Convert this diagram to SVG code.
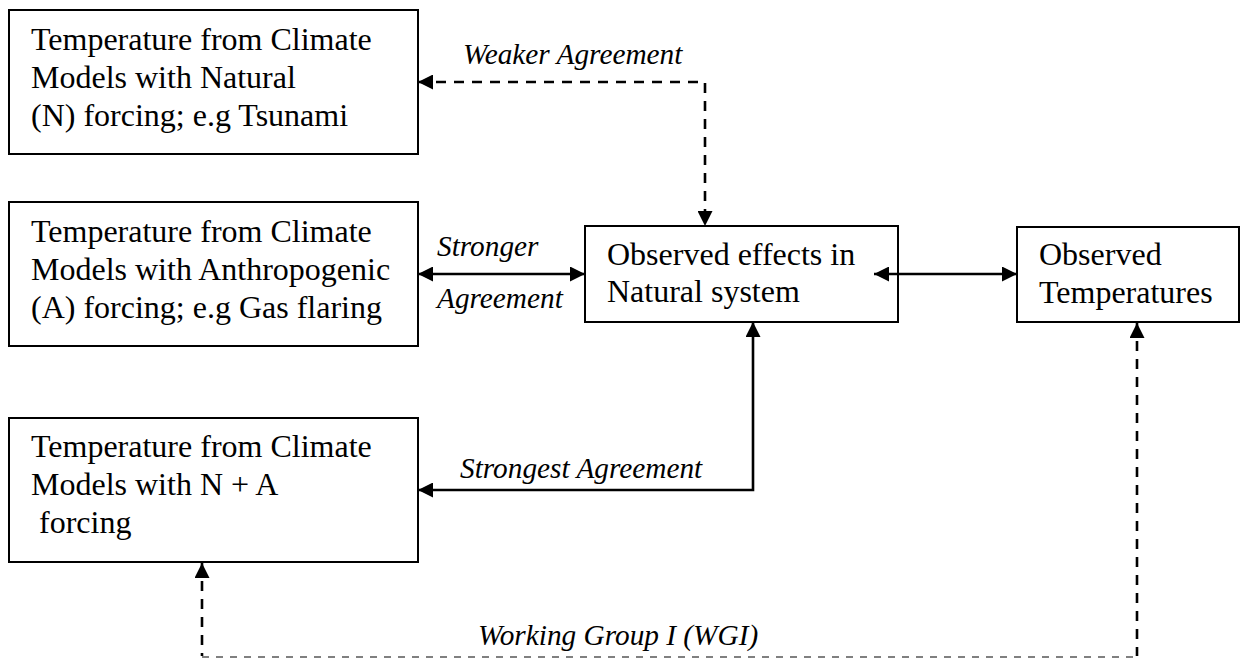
<svg xmlns="http://www.w3.org/2000/svg" width="1250" height="658" viewBox="0 0 1250 658">
<style>
.box{fill:#fff;stroke:#000;stroke-width:2}
.t{font-family:'Liberation Serif','Times New Roman','DejaVu Serif',serif;font-size:32px;fill:#000}
.l{font-family:'Liberation Serif','Times New Roman','DejaVu Serif',serif;font-size:29.3px;font-style:italic;fill:#000}
.c{fill:none;stroke:#000;stroke-width:2.6}
.d{stroke-dasharray:10 8}
.g{fill:none;stroke:#808080;stroke-width:2;stroke-dasharray:7 7}
</style>
<defs>
<marker id="ah" markerUnits="userSpaceOnUse" markerWidth="15" markerHeight="15" viewBox="0 0 15 15" refX="15" refY="7.5" orient="auto-start-reverse">
<path d="M0,0 L15,7.5 L0,15 z" fill="#000"/>
</marker>
</defs>
<rect width="1250" height="658" fill="#fff"/>
<g id="n1">
<rect class="box" x="9" y="10" width="409" height="144"/>
<text class="t" x="31" y="50">Temperature from Climate</text>
<text class="t" x="31" y="88">Models with Natural</text>
<text class="t" x="31" y="126">(N) forcing; e.g Tsunami</text>
</g>
<g id="n2">
<rect class="box" x="9" y="202" width="409" height="144"/>
<text class="t" x="31" y="242">Temperature from Climate</text>
<text class="t" x="31" y="280">Models with Anthropogenic</text>
<text class="t" x="31" y="318">(A) forcing; e.g Gas flaring</text>
</g>
<g id="n3">
<rect class="box" x="585" y="226" width="313" height="96"/>
<text class="t" x="607" y="265">Observed effects in</text>
<text class="t" x="607" y="302">Natural system</text>
</g>
<g id="n4">
<rect class="box" x="1017" y="227" width="222" height="95"/>
<text class="t" x="1039" y="265">Observed</text>
<text class="t" x="1039" y="303">Temperatures</text>
</g>
<g id="n5">
<rect class="box" x="9" y="418" width="409" height="144"/>
<text class="t" x="31" y="457">Temperature from Climate</text>
<text class="t" x="31" y="495">Models with N + A</text>
<text class="t" x="39" y="533">forcing</text>
</g>
<g id="connectors">
<path class="c d" d="M418,82 H705 V226" marker-start="url(#ah)" marker-end="url(#ah)"/>
<path class="c" d="M418,274 H585" marker-start="url(#ah)" marker-end="url(#ah)"/>
<path class="c" d="M874,274 H1017" marker-start="url(#ah)" marker-end="url(#ah)"/>
<path class="c" d="M753,322 V490 H418" marker-start="url(#ah)" marker-end="url(#ah)"/>
<path class="c d" d="M202,563 V656" marker-start="url(#ah)"/>
<path class="c d" d="M1137,323 V656" marker-start="url(#ah)"/>
<path class="g" d="M202,657 H1137"/>
<text class="l" x="463" y="64">Weaker Agreement</text>
<text class="l" x="437" y="256">Stronger</text>
<text class="l" x="437" y="308">Agreement</text>
<text class="l" x="460" y="478">Strongest Agreement</text>
<text class="l" x="478" y="645">Working Group I (WGI)</text>
</g>
</svg>
